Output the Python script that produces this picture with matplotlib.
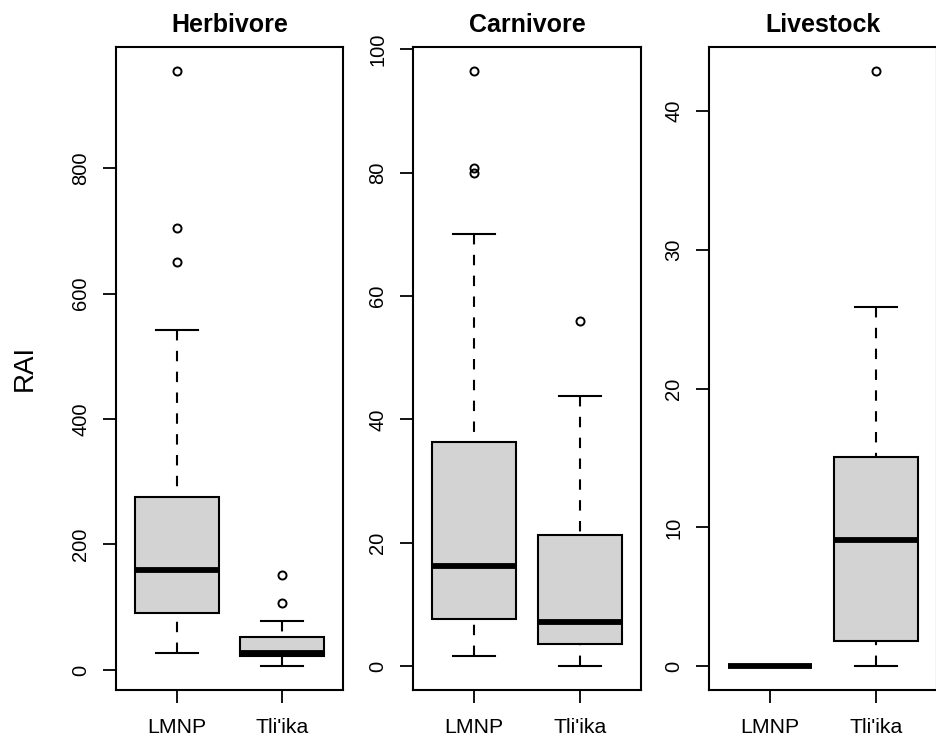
import matplotlib
matplotlib.use("Agg")
import matplotlib.pyplot as plt

groups = ["LMNP", "Tli'ika"]
titles = ["Herbivore", "Carnivore", "Livestock"]

# five number summaries, one entry per group
herb_whislo = [27, 6]
herb_q1 = [90, 22]
herb_med = [159, 27]
herb_q3 = [275, 52]
herb_whishi = [542, 78]
herb_fliers = [[955, 705, 651], [152, 107]]

carn_whislo = [1.7, 0]
carn_q1 = [7.6, 3.6]
carn_med = [16.2, 7.2]
carn_q3 = [36.4, 21.3]
carn_whishi = [70.0, 43.8]
carn_fliers = [[96.5, 80.8, 80.0], [56.0]]

live_whislo = [0, 0]
live_q1 = [0, 1.8]
live_med = [0, 9.1]
live_q3 = [0, 15.1]
live_whishi = [0, 25.9]
live_fliers = [[], [42.9]]

yticks = [[0, 200, 400, 600, 800],
          [0, 20, 40, 60, 80, 100],
          [0, 10, 20, 30, 40]]

W, H = 936, 740
# axes boxes in pixels: left, right, top, bottom
panels = [(116, 343, 47, 690), (413, 641, 47, 690), (709, 937, 47, 690)]


def make_stats(whislo, q1, med, q3, whishi, fliers):
    stats = []
    for i in range(len(groups)):
        stats.append({'label': groups[i], 'whislo': whislo[i], 'q1': q1[i],
                      'med': med[i], 'q3': q3[i], 'whishi': whishi[i],
                      'fliers': fliers[i]})
    return stats


def main():
    plt.rcParams['font.family'] = ['Liberation Sans', 'DejaVu Sans']
    fig = plt.figure(figsize=(W / 100, H / 100), dpi=100)

    all_stats = [
        make_stats(herb_whislo, herb_q1, herb_med, herb_q3, herb_whishi, herb_fliers),
        make_stats(carn_whislo, carn_q1, carn_med, carn_q3, carn_whishi, carn_fliers),
        make_stats(live_whislo, live_q1, live_med, live_q3, live_whishi, live_fliers),
    ]

    for idx, stats in enumerate(all_stats):
        l, r, t, b = panels[idx]
        ax = fig.add_axes([l / W, 1 - b / H, (r - l) / W, (b - t) / H])
        bp = ax.bxp(stats, positions=[1, 2], widths=0.8, capwidths=0.4,
                    patch_artist=True, showfliers=True,
                    boxprops=dict(facecolor='#d3d3d3', edgecolor='black', linewidth=1.5),
                    medianprops=dict(color='black', linewidth=4.2, solid_capstyle='butt'),
                    whiskerprops=dict(color='black', linewidth=1.5, linestyle=(0, (5, 5))),
                    capprops=dict(color='black', linewidth=1.5),
                    flierprops=dict(marker='o', markersize=5.8, markerfacecolor='none',
                                    markeredgecolor='black', markeredgewidth=1.4))
        # R draws the whisker from the cap towards the box, so the dashes start there
        for w in bp['whiskers']:
            w.set_ydata(w.get_ydata()[::-1])

        # R style 4% padding on the value range
        vals = []
        for s in stats:
            vals += [s['whislo'], s['whishi']] + list(s['fliers'])
        lo, hi = min(vals), max(vals)
        pad = 0.04 * (hi - lo)
        ax.set_ylim(lo - pad, hi + pad)
        ax.set_xlim(0.42, 2.58)

        ax.set_yticks(yticks[idx])
        ax.set_yticklabels([str(v) for v in yticks[idx]], rotation=90, va='center')
        ax.set_xticks([1, 2])
        ax.set_xticklabels(groups)
        ax.tick_params(axis='both', length=9.5, width=1.3, color='black')
        ax.tick_params(axis='y', pad=9, labelsize=14.5)
        ax.tick_params(axis='x', pad=10.5, labelsize=15.3)
        for sp in ax.spines.values():
            sp.set_linewidth(1.5)
        ax.set_title(titles[idx], fontsize=18, fontweight='bold', pad=10.5)

    fig.text(25 / W, 1 - 368 / H, 'RAI', rotation=90, fontsize=20,
             ha='center', va='center')

    fig.savefig('out.png', dpi=100)


if __name__ == '__main__':
    main()
